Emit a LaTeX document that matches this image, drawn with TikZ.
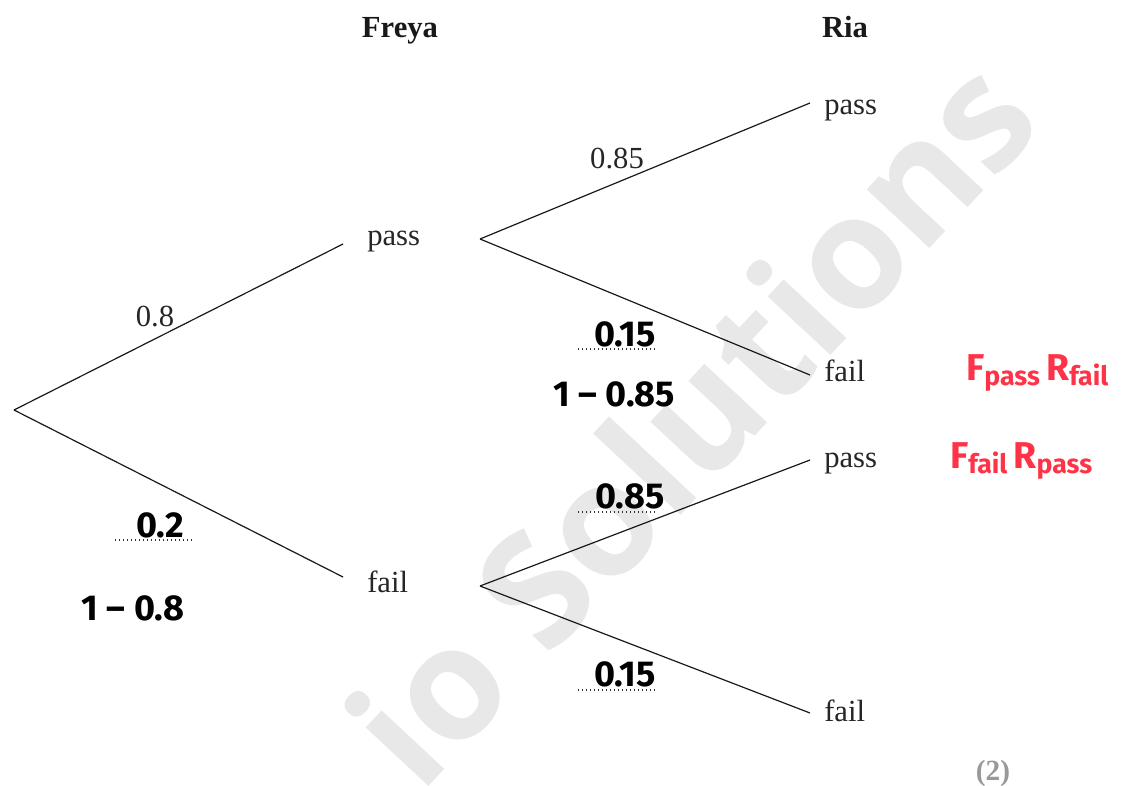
\documentclass[tikz,border=0pt]{standalone}
\usepackage{fontspec}
\setmainfont{Liberation Serif}
\newfontfamily\handfont{Fira Sans}
\newfontfamily\wmfont{Open Sans}
\definecolor{handred}{HTML}{FF3347}
\definecolor{wmgray}{HTML}{E8E8E8}
\definecolor{markgray}{HTML}{999999}
\begin{document}
\begin{tikzpicture}[x=0.75pt,y=-0.75pt,
  branch/.style={line width=0.9pt, black!90},
  lbl/.style={inner sep=0pt, font=\fontsize{23}{26}\selectfont, text=black!85},
  head/.style={inner sep=0pt, font=\fontsize{23}{26}\selectfont\bfseries, text=black!90},
  hand/.style={inner sep=0pt, font=\handfont\bfseries\fontsize{27}{29}\selectfont},
  redhand/.style={inner sep=0pt, text=handred, font=\handfont\bfseries\fontsize{28}{30}\selectfont},
  dotline/.style={line width=1pt, dash pattern=on 1pt off 2pt, black!80}]
\useasboundingbox (0,0) rectangle (1123,785);
% watermark
\node[inner sep=0pt, text=wmgray, rotate=47, font=\wmfont\bfseries\fontsize{118}{125}\selectfont] (wm) at (690,420) {io Solutions};
% branch points
\coordinate (root) at (14,410);
\coordinate (fpin) at (343,244);
\coordinate (fpout) at (480,239);
\coordinate (ffin) at (343,577);
\coordinate (ffout) at (480,586);
\coordinate (rpp) at (810,103);
\coordinate (rpf) at (810,375);
\coordinate (rfp) at (810,460);
\coordinate (rff) at (810,713);
% headers
\node[head, anchor=base] (hfreya) at (400,37) {Freya};
\node[head, anchor=base] (hria) at (845,37) {Ria};
% outcome labels
\node[lbl, anchor=base west] (fpass) at (367,245) {pass};
\node[lbl, anchor=base west] (ffail) at (367,592) {fail};
\node[lbl, anchor=base west] (rpass1) at (824,114) {pass};
\node[lbl, anchor=base west] (rfail1) at (824,381) {fail};
\node[lbl, anchor=base west] (rpass2) at (824,467) {pass};
\node[lbl, anchor=base west] (rfail2) at (824,721) {fail};
% branches
\draw[branch] (root) -- (fpin);
\draw[branch] (root) -- (ffin);
\draw[branch] (fpout) -- (rpp);
\draw[branch] (fpout) -- (rpf);
\draw[branch] (ffout) -- (rfp);
\draw[branch] (ffout) -- (rff);
% printed probabilities
\node[lbl, anchor=base] (p08) at (155,326) {0.8};
\node[lbl, anchor=base] (p085) at (617,168) {0.85};
% handwritten probabilities
\node[hand, anchor=base] (h015a) at (625,346) {0.15};
\coordinate (d1a) at (578,349); \coordinate (d1b) at (655,349);
\draw[dotline] (d1a) -- (d1b);
\node[hand, anchor=base] (h1m085) at (614,406) {1 – 0.85};
\node[hand, anchor=base] (h02) at (160,537) {0.2};
\coordinate (d2a) at (115,540); \coordinate (d2b) at (192,540);
\draw[dotline] (d2a) -- (d2b);
\node[hand, anchor=base] (h1m08) at (133,620) {1 – 0.8};
\node[hand, anchor=base] (h085) at (630,508) {0.85};
\coordinate (d3a) at (578,512); \coordinate (d3b) at (655,512);
\draw[dotline] (d3a) -- (d3b);
\node[hand, anchor=base] (h015b) at (625,686) {0.15};
\coordinate (d4a) at (578,690); \coordinate (d4b) at (655,690);
\draw[dotline] (d4a) -- (d4b);
% red annotations
\node[redhand, anchor=base west] (pf) at (966,380) {F\raisebox{-4pt}{\fontsize{20}{22}\selectfont pass}\,R\raisebox{-4pt}{\fontsize{20}{22}\selectfont fail}};
\node[redhand, anchor=base west] (fp) at (950,468) {F\raisebox{-4pt}{\fontsize{20}{22}\selectfont fail}\,R\raisebox{-4pt}{\fontsize{20}{22}\selectfont pass}};
% marks
\node[inner sep=0pt, anchor=base, text=markgray, font=\fontsize{22}{24}\selectfont\bfseries] (marks) at (993,780) {(2)};
\end{tikzpicture}
\end{document}
